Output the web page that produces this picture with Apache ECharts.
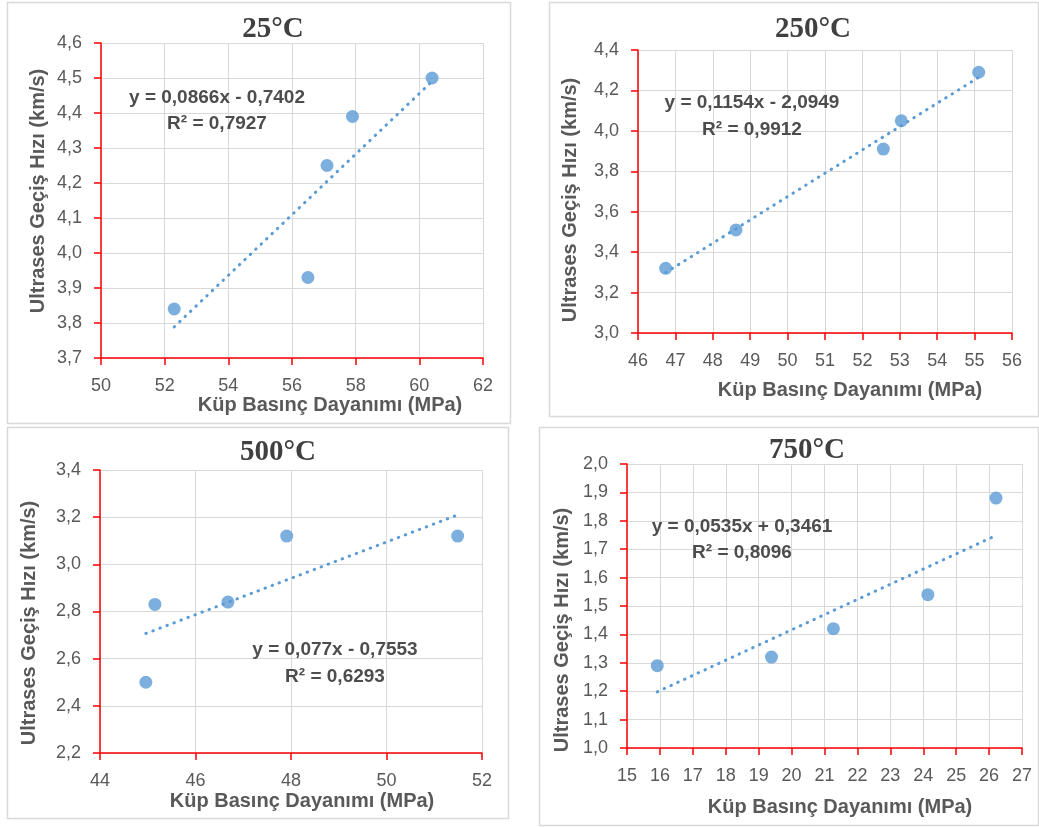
<!DOCTYPE html>
<html>
<head>
<meta charset="utf-8">
<script src="https://cdn.jsdelivr.net/npm/echarts@6/dist/echarts.min.js"></script>
<style>html,body{margin:0;padding:0;background:#fff}#c{width:1039px;height:827px}</style>
</head>
<body>
<div id="c"></div>
<script>
// ---- data ----
const titles = ['25°C', '250°C', '500°C', '750°C'];
const x25 = [52.3, 56.5, 57.1, 57.9, 60.4];
const y25 = [3.84, 3.93, 4.25, 4.39, 4.50];
const x250 = [46.74, 48.62, 52.56, 53.04, 55.11];
const y250 = [3.32, 3.51, 3.91, 4.05, 4.29];
const x500 = [44.96, 45.15, 46.68, 47.91, 51.49];
const y500 = [2.50, 2.83, 2.84, 3.12, 3.12];
const x750 = [15.92, 19.39, 21.27, 24.14, 26.21];
const y750 = [1.29, 1.32, 1.42, 1.54, 1.88];
const slopes = [0.0866, 0.1154, 0.077, 0.0535];
const intercepts = [-0.7402, -2.0949, -0.7553, 0.3461];
const eqTexts = ['y = 0,0866x - 0,7402', 'y = 0,1154x - 2,0949', 'y = 0,077x - 0,7553', 'y = 0,0535x + 0,3461'];
const r2Texts = ['R² = 0,7927', 'R² = 0,9912', 'R² = 0,6293', 'R² = 0,8096'];
const xMins = [50, 46, 44, 15], xMaxs = [62, 56, 52, 27], xSteps = [2, 1, 2, 1];
const yMins = [3.7, 3.0, 2.2, 1.0], yMaxs = [4.6, 4.4, 3.4, 2.0], ySteps = [0.1, 0.2, 0.2, 0.1];
const xName = 'Küp Basınç Dayanımı (MPa)';
const yName = 'Ultrases Geçiş Hızı (km/s)';

// ---- layout ----
const xs = [x25, x250, x500, x750], ys = [y25, y250, y500, y750];
const grids = [
  {left: 101, top: 43, width: 382, height: 315},
  {left: 638, top: 50, width: 374, height: 283},
  {left: 100, top: 470, width: 382, height: 283},
  {left: 627, top: 464, width: 395, height: 284}
];
const frames = [[7, 2, 503, 421], [549, 2, 489, 414], [7, 427, 501, 391], [539, 427, 499, 398]];
const titlePos = [[268, 25], [808, 25], [273, 448], [802, 446]];
const eqPos = [[217, 98, 124], [752, 103, 130], [335, 650, 677], [742, 527, 553]];
const xNamePos = [[330, 405], [850, 390], [302, 801], [840, 807]];
const yNamePos = [[38, 191], [570, 200], [29, 623], [562, 630]];

const gray = '#595959';
const blue = '#5b9bd5';
const fontF = '"Liberation Sans", Arial, sans-serif';

const xAxis = [], yAxis = [], series = [], title = [], graphic = [];
for (let i = 0; i < 4; i++) {
  const axisCommon = {
    gridIndex: i,
    axisLine: {show: true, onZero: false, lineStyle: {color: '#ff0000', width: 1.5}},
    axisTick: {show: true, length: 7, lineStyle: {color: '#ff0000', width: 1.5}},
    splitLine: {show: true, lineStyle: {color: '#d9d9d9', width: 1}},
    axisLabel: {color: gray, fontSize: 18, fontFamily: fontF}
  };
  xAxis.push(Object.assign({}, axisCommon, {
    type: 'value', min: xMins[i], max: xMaxs[i], interval: xSteps[i],
    axisLabel: Object.assign({}, axisCommon.axisLabel, {margin: 19, formatter: v => String(Math.round(v))})
  }));
  yAxis.push(Object.assign({}, axisCommon, {
    type: 'value', min: yMins[i], max: yMaxs[i], interval: ySteps[i],
    axisLabel: Object.assign({}, axisCommon.axisLabel, {margin: 19, formatter: v => v.toFixed(1).replace('.', ',')})
  }));
  const pts = xs[i].map((x, k) => [x, ys[i][k]]);
  const lo = Math.min.apply(null, xs[i]), hi = Math.max.apply(null, xs[i]);
  series.push({
    type: 'line', xAxisIndex: i, yAxisIndex: i, symbol: 'none', silent: true,
    data: [[lo, slopes[i] * lo + intercepts[i]], [hi, slopes[i] * hi + intercepts[i]]],
    lineStyle: {color: blue, width: 3, type: [0.5, 7], cap: 'round'}, z: 2
  });
  series.push({
    type: 'scatter', xAxisIndex: i, yAxisIndex: i, symbol: 'circle', symbolSize: 13,
    data: pts, itemStyle: {color: blue}, z: 3
  });
  title.push({
    text: titles[i], left: titlePos[i][0], top: titlePos[i][1], textAlign: 'center', textVerticalAlign: 'middle',
    textStyle: {fontFamily: '"Liberation Serif", "Times New Roman", serif', fontWeight: 'bold', fontSize: 29, color: '#404040'}
  });
  const f = frames[i];
  graphic.push({type: 'rect', shape: {x: f[0] + 0.5, y: f[1] + 0.5, width: f[2], height: f[3]},
    style: {fill: 'none', stroke: '#d9d9d9', lineWidth: 1.5}, z: -1, silent: true});
  const tStyle = {fill: '#4d4d4d', font: 'bold 19px ' + fontF, textAlign: 'center', textVerticalAlign: 'middle'};
  graphic.push({type: 'text', x: eqPos[i][0], y: eqPos[i][1], style: Object.assign({text: eqTexts[i]}, tStyle), z: 10});
  graphic.push({type: 'text', x: eqPos[i][0], y: eqPos[i][2], style: Object.assign({text: r2Texts[i]}, tStyle), z: 10});
  const nStyle = {fill: gray, font: 'bold 20px ' + fontF, textAlign: 'center', textVerticalAlign: 'middle'};
  graphic.push({type: 'text', x: xNamePos[i][0], y: xNamePos[i][1], style: Object.assign({text: xName}, nStyle), z: 10});
  graphic.push({type: 'text', x: yNamePos[i][0], y: yNamePos[i][1], rotation: Math.PI / 2,
    style: Object.assign({text: yName}, nStyle), z: 10});
}

const chart = echarts.init(document.getElementById('c'), null, {renderer: 'canvas'});
chart.setOption({
  backgroundColor: '#ffffff',
  animation: false,
  title: title,
  grid: grids,
  xAxis: xAxis,
  yAxis: yAxis,
  series: series,
  graphic: graphic
});
</script>
</body>
</html>
